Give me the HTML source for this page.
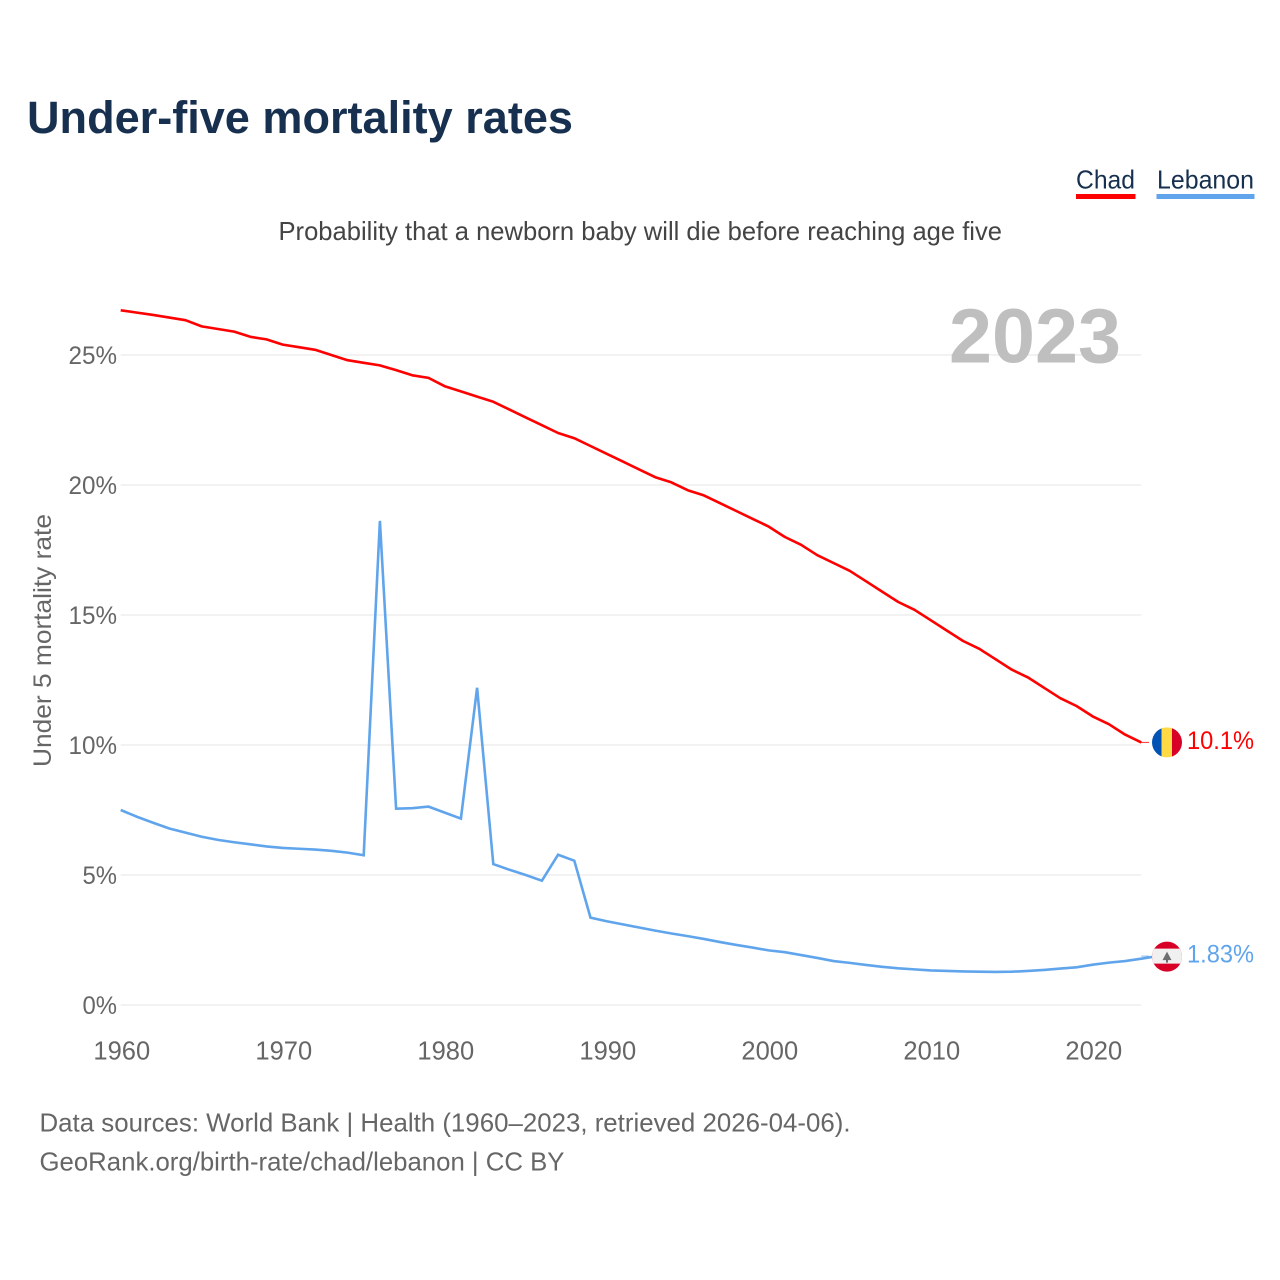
<!DOCTYPE html>
<html lang="en">
<head>
<meta charset="utf-8">
<title>Under-five mortality rates</title>
<style>
html,body{margin:0;padding:0;background:#fff;}
svg{display:block;font-family:"Liberation Sans",sans-serif;}
</style>
</head>
<body>
<svg id="chart" xmlns="http://www.w3.org/2000/svg" width="1280" height="1280" viewBox="0 0 1280 1280">
  <rect width="1280" height="1280" fill="#fff"/>
  <text x="27" y="133" font-size="45" font-weight="700" fill="#17304f" textLength="546" lengthAdjust="spacingAndGlyphs">Under-five mortality rates</text>
  <text x="1076" y="188.500" font-size="26" fill="#17304f" textLength="59" lengthAdjust="spacingAndGlyphs">Chad</text>
  <rect x="1076" y="194" width="59.500" height="5" fill="#ff0000"/>
  <text x="1157" y="188.500" font-size="26" fill="#17304f" textLength="97" lengthAdjust="spacingAndGlyphs">Lebanon</text>
  <rect x="1156.500" y="194" width="98" height="5" fill="#60a5ec"/>
  <text x="278.500" y="240" font-size="26" fill="#444" textLength="723.500" lengthAdjust="spacingAndGlyphs">Probability that a newborn baby will die before reaching age five</text>
  <g id="grid"></g>
  <text x="949" y="362.500" font-size="77" font-weight="700" fill="#bfbfbf" textLength="172" lengthAdjust="spacingAndGlyphs">2023</text>
  <g id="yticks"></g>
  <g id="xticks"></g>
  <text transform="translate(51,767) rotate(-90)" font-size="25" fill="#666" textLength="253" lengthAdjust="spacingAndGlyphs">Under 5 mortality rate</text>
  <g id="series"></g>
  <g id="flag-chad"></g>
  <g id="flag-lebanon"></g>
  <text x="39.500" y="1131.500" font-size="26" fill="#666" textLength="811" lengthAdjust="spacingAndGlyphs">Data sources: World Bank | Health (1960–2023, retrieved 2026-04-06).</text>
  <text x="39.500" y="1170.500" font-size="26" fill="#666" textLength="525" lengthAdjust="spacingAndGlyphs">GeoRank.org/birth-rate/chad/lebanon | CC BY</text>
</svg>
<script>
const startYear = 1960;
const chadValues = [26.72,26.63,26.54,26.44,26.34,26.10,26.00,25.90,25.70,25.60,25.40,25.30,25.20,25.00,24.80,24.70,24.60,24.42,24.22,24.12,23.80,23.60,23.40,23.20,22.90,22.60,22.30,22.00,21.80,21.50,21.20,20.90,20.60,20.30,20.10,19.80,19.60,19.30,19.00,18.70,18.40,18.00,17.70,17.30,17.00,16.70,16.30,15.90,15.50,15.20,14.80,14.40,14.00,13.70,13.30,12.90,12.60,12.20,11.80,11.50,11.10,10.80,10.40,10.10];
const lebanonValues = [7.50,7.24,7.01,6.79,6.63,6.47,6.35,6.26,6.18,6.10,6.04,6.01,5.98,5.93,5.86,5.76,18.62,7.55,7.57,7.63,7.40,7.17,12.20,5.42,5.20,5.00,4.78,5.78,5.55,3.36,3.22,3.10,2.98,2.86,2.75,2.65,2.54,2.42,2.31,2.21,2.10,2.03,1.92,1.81,1.69,1.62,1.54,1.47,1.41,1.37,1.33,1.31,1.29,1.28,1.27,1.28,1.31,1.35,1.40,1.45,1.55,1.63,1.69,1.78,1.88];
const yTickValues = [0,5,10,15,20,25];
const xTickYears = [1960,1970,1980,1990,2000,2010,2020];
const chadEndLabel = "10.1%";
const lebanonEndLabel = "1.83%";

const NS = "http://www.w3.org/2000/svg";
function xScale(year){ return 120.7 + (year - 1960) * 16.2; }
function yScale(v){ return 1005 - v * 26; }
function mk(parent, tag, attrs, text){
  const el = document.createElementNS(NS, tag);
  for (const k in attrs) el.setAttribute(k, attrs[k]);
  if (text !== undefined) el.textContent = text;
  parent.appendChild(el);
  return el;
}
const lastX = xScale(startYear + chadValues.length - 1);

const grid = document.getElementById('grid');
const yticks = document.getElementById('yticks');
yTickValues.forEach(function(v){
  const line = mk(grid, 'line', {x1:xScale(startYear), x2:lastX, y1:yScale(v), y2:yScale(v), stroke:'#e9e9e9', 'stroke-width':1.2});
  
  
  const txt = v + '%';
  const label = mk(yticks, 'text', {x:117, y:yScale(v)+9, 'text-anchor':'end', 'font-size':25, fill:'#666', textLength:txt.length === 3 ? 48.500 : 34.500, lengthAdjust:'spacingAndGlyphs'}, txt);
  
  
});

const xticks = document.getElementById('xticks');
xTickYears.forEach(function(y){
  const label = mk(xticks, 'text', {x:xScale(y)+1.100, y:1059.500, 'text-anchor':'middle', 'font-size':25.500, fill:'#666'}, String(y));
  
  
});

const series = document.getElementById('series');
function pathFor(vals){
  return vals.map(function(v,i){
    return (i ? 'L' : 'M') + xScale(startYear + i).toFixed(2) + ' ' + yScale(v).toFixed(2);
  }).join('');
}
const lebLine = mk(series, 'path', {d:pathFor(lebanonValues), fill:'none', stroke:'#60a5ec', 'stroke-width':2.600, 'stroke-linejoin':'miter'});


const chadLine = mk(series, 'path', {d:pathFor(chadValues), fill:'none', stroke:'#ff0000', 'stroke-width':2.600, 'stroke-linejoin':'round'});



const FX = 1167, R = 15;
const chadY = yScale(chadValues[chadValues.length - 1]);
const lebY = yScale(lebanonValues[lebanonValues.length - 1]);

const chadConn = mk(series, 'line', {x1:lastX, x2:1149, y1:chadY, y2:chadY, stroke:'#ff0000', 'stroke-width':1, opacity:.8});


const lebConn = mk(series, 'line', {x1:lastX, x2:1149, y1:lebY, y2:lebY, stroke:'#60a5ec', 'stroke-width':1, opacity:.8});



const fc = document.getElementById('flag-chad');
const clipC = mk(fc, 'clipPath', {id:'clip-c'});
mk(clipC, 'circle', {cx:FX, cy:chadY, r:R});
const fcg = mk(fc, 'g', {'clip-path':'url(#clip-c)'});
mk(fcg, 'rect', {x:FX-R, y:chadY-R, width:10, height:30, fill:'#0052b4'});
mk(fcg, 'rect', {x:FX-R+9.500, y:chadY-R, width:11, height:30, fill:'#ffda44'});
mk(fcg, 'rect', {x:FX-R+20, y:chadY-R, width:10, height:30, fill:'#d80027'});
const chadLbl = mk(fc, 'text', {x:1187, y:chadY+6.500, 'font-size':25, fill:'#ff0000', textLength:67, lengthAdjust:'spacingAndGlyphs'}, chadEndLabel);



const fl = document.getElementById('flag-lebanon');
const clipL = mk(fl, 'clipPath', {id:'clip-l'});
mk(clipL, 'circle', {cx:FX, cy:lebY+0.500, r:R});
const flg = mk(fl, 'g', {'clip-path':'url(#clip-l)'});
mk(flg, 'rect', {x:FX-R, y:lebY-R, width:30, height:31, fill:'#d80027'});
mk(flg, 'rect', {x:FX-R, y:lebY-7.500, width:30, height:15, fill:'#f0f0f0'});
mk(flg, 'path', {d:'M'+FX+' '+(lebY-4.500)+'l4.500 8.500h-3.500v2.500h-2v-2.500h-3.500z', fill:'#6d6e71'});
const lebLbl = mk(fl, 'text', {x:1187, y:lebY+6.500, 'font-size':25, fill:'#60a5ec', textLength:67, lengthAdjust:'spacingAndGlyphs'}, lebanonEndLabel);


</script>
</body>
</html>
